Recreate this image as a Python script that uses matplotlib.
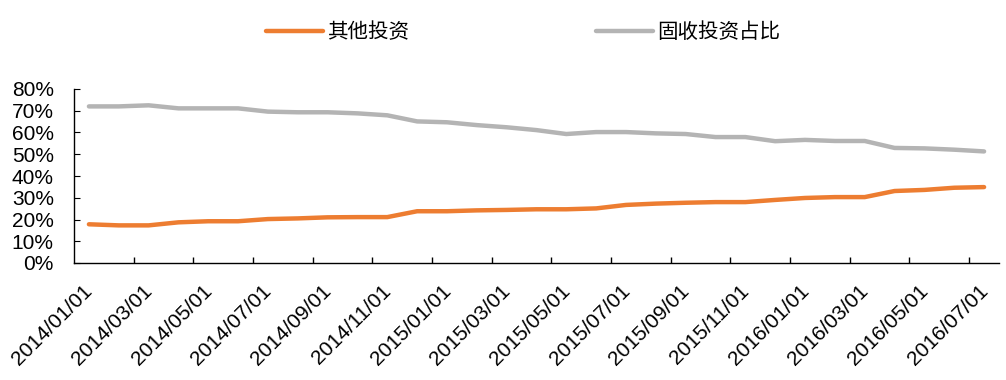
import numpy as np
import matplotlib.pyplot as plt
import matplotlib.transforms as mtransforms
from matplotlib.ticker import PercentFormatter

plt.rcParams['font.family'] = ['Liberation Sans', 'Noto Sans CJK SC', 'DejaVu Sans']

months = ['2014/01/01', '2014/02/01', '2014/03/01', '2014/04/01', '2014/05/01',
          '2014/06/01', '2014/07/01', '2014/08/01', '2014/09/01', '2014/10/01',
          '2014/11/01', '2014/12/01', '2015/01/01', '2015/02/01', '2015/03/01',
          '2015/04/01', '2015/05/01', '2015/06/01', '2015/07/01', '2015/08/01',
          '2015/09/01', '2015/10/01', '2015/11/01', '2015/12/01', '2016/01/01',
          '2016/02/01', '2016/03/01', '2016/04/01', '2016/05/01', '2016/06/01',
          '2016/07/01']

other = [17.8, 17.3, 17.3, 18.7, 19.2, 19.2, 20.2, 20.5, 21.0, 21.1,
         21.1, 23.8, 23.8, 24.2, 24.4, 24.7, 24.7, 25.1, 26.7, 27.3,
         27.7, 28.0, 28.0, 29.0, 29.9, 30.3, 30.3, 33.1, 33.6, 34.6, 34.9]

fixed = [72.0, 72.0, 72.5, 71.1, 71.1, 71.1, 69.6, 69.3, 69.3, 68.8,
         67.9, 65.1, 64.7, 63.4, 62.4, 61.1, 59.3, 60.2, 60.2, 59.6,
         59.3, 57.9, 57.9, 56.0, 56.6, 56.1, 56.1, 52.9, 52.7, 52.1, 51.3]

x = np.arange(len(months))

fig = plt.figure(figsize=(10.06, 3.8), dpi=100)
ax = fig.add_axes([74 / 1006, 1 - 263 / 380, 925 / 1006, 174 / 380])

ax.plot(x, np.array(other) / 100, color='#ED7D31', lw=3.2, label='其他投资',
        solid_capstyle='round')
ax.plot(x, np.array(fixed) / 100, color='#B4B4B4', lw=3.2, label='固收投资占比',
        solid_capstyle='round')

ax.set_xlim(-0.5, len(months) - 0.5)
ax.set_ylim(0, 0.8)
ax.set_yticks(np.arange(0, 0.81, 0.1))
ax.yaxis.set_major_formatter(PercentFormatter(1.0, decimals=0))

ax.set_xticks(x[::2])
ax.set_xticklabels(months[::2], rotation=45, ha='right', rotation_mode='anchor')
ax.set_xticks(np.arange(1.5, len(months) - 1, 2), minor=True)
ax.tick_params(axis='x', which='major', length=0, labelsize=15, pad=13.5)
ax.tick_params(axis='x', which='minor', length=4, direction='in', width=1)
ax.tick_params(axis='y', length=4, direction='in', labelsize=15, pad=14.5)

# nudge the rotated date labels a little to the left
shift = mtransforms.ScaledTranslation(-6 / 100, 0, fig.dpi_scale_trans)
for lab in ax.get_xticklabels():
    lab.set_transform(lab.get_transform() + shift)

for s in ['top', 'right']:
    ax.spines[s].set_visible(False)
for s in ['left', 'bottom']:
    ax.spines[s].set_linewidth(1)
    ax.spines[s].set_color('black')

fig.legend(loc='center', bbox_to_anchor=(0.52, 1 - 32 / 380), ncol=2,
           frameon=False, fontsize=14.8, handlelength=2.75, columnspacing=9.1,
           handletextpad=0.2)

fig.savefig('out.png', dpi=100)
